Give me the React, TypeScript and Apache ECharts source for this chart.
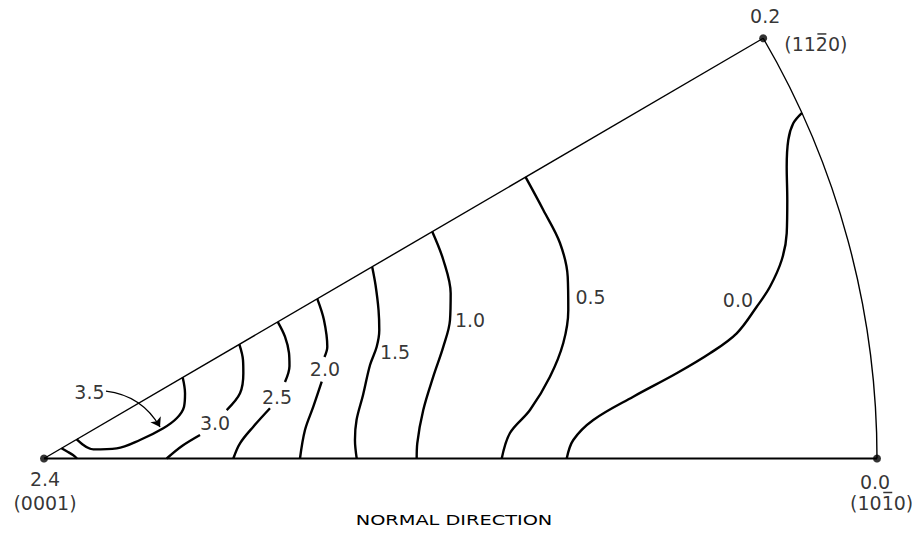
import { useEffect, useRef } from 'react';
import * as echarts from 'echarts';

const FONT = '"DejaVu Sans", "Liberation Sans", sans-serif';

// Projection units: the (0001)-(10-10) edge runs from 0 to 100.
// Poles of the standard triangle and the density measured at each pole.
const poleNames = ['(0001)', '(1010)', '(1120)'];
const poleDensity = ['2.4', '0.0', '0.2'];
const poleX = [0, 100, 86.34];
const poleY = [0, 0, 50.45];

// Iso-density lines (times random), traced as [x, y] points.
const level00 = [[91.0, 41.5], [89.95, 40.24], [89.35, 38.24], [89.16, 35.03], [89.23, 31.03], [89.16, 27.03], [88.56, 23.83], [87.15, 20.62], [85.56, 18.22], [83.16, 15.03], [79.95, 12.63], [75.95, 10.23], [70.74, 7.42], [65.94, 4.62], [63.54, 2.22], [62.75, 0]];
const level05 = [[57.8, 33.8], [59.94, 29.83], [61.94, 25.87], [62.87, 21.82], [62.94, 17.83], [62.34, 13.87], [60.74, 9.82], [58.34, 5.82], [55.94, 3.06], [54.95, 0]];
const level10 = [[46.6, 27.25], [47.94, 23.83], [48.82, 19.83], [48.74, 16.63], [47.94, 13.42], [46.73, 9.82], [45.53, 5.82], [44.81, 1.82], [44.74, 0]];
const level15 = [[39.4, 23.0], [39.8, 20.83], [40.16, 17.83], [40.25, 15.43], [39.94, 13.42], [39.14, 11.22], [38.3, 7.62], [37.52, 4.62], [37.33, 2.22], [37.54, 0]];
const level20Upper = [[32.81, 19.17], [33.61, 16.63], [34.01, 13.42], [33.67, 12.18]];
const level20Lower = [[33.34, 9.22], [32.33, 6.22], [31.33, 3.42], [30.73, 0]];
const level25Upper = [[28.06, 16.4], [28.93, 14.62], [29.41, 12.67], [29.47, 11.1], [28.93, 9.18]];
const level25Lower = [[27.13, 6.03], [25.13, 3.82], [23.53, 1.82], [22.73, 0]];
const level30Upper = [[23.45, 13.7], [23.89, 11.82], [23.93, 10.23], [23.53, 7.83], [21.93, 5.82]];
const level30Lower = [[18.73, 2.82], [16.57, 1.5], [14.73, 0]];
const level35 = [[16.65, 9.73], [16.93, 7.83], [16.81, 6.22], [15.93, 4.83], [14.32, 3.63], [11.52, 2.22], [8.73, 1.22], [5.92, 1.1], [3.93, 2.29]];
const levelNearPole = [[2.1, 1.23], [2.88, 0.78], [3.48, 0.42], [3.96, 0]];

const contourLines = [level00, level05, level10, level15, level20Upper, level20Lower, level25Upper, level25Lower, level30Upper, level30Lower, level35, levelNearPole];

// Level labels and their anchor points
const levelNames = ['0.0', '0.5', '1.0', '1.5', '2.0', '2.5', '3.0', '3.5'];
const levelLabelX = [83.31, 65.61, 51.14, 42.14, 33.73, 27.97, 20.53, 5.46];
const levelLabelY = [19.03, 19.39, 16.63, 12.79, 10.8, 7.38, 4.23, 7.98];

// Leader from the 3.5 label to its line
const leaderFrom = [7.44, 8.1];
const leaderTo = [13.93, 3.78];

// Label placement around the poles (pixels)
const densityOffsets = [[1, 20], [-2, 23], [2, -22]];
const nameOffsets = [[1, 44.5], [4.7, 44], [52.6, 5.7]];
// Bar over the negative index (pixels from the pole); none for (0001)
const barOffsets = [null, [10.75, 34], [58.65, -4.3]];

const ink = '#000';

function buildOption() {
  const poles = poleX.map((x, i) => [x, poleY[i]]);

  const contourSeries = contourLines.map((pts) => ({
    type: 'line',
    data: pts,
    smooth: 0.35,
    symbol: 'none',
    clip: false,
    silent: true,
    lineStyle: { color: '#000', width: 2.4 },
  }));

  const textLabel = (size: number) => ({
    show: true,
    position: 'inside',
    formatter: '{b}',
    color: ink,
    fontSize: size,
    fontFamily: FONT,
    align: 'center',
    verticalAlign: 'middle',
  });

  return {
    animation: false,
    backgroundColor: '#fff',
    grid: { left: 44, top: 0.35, width: 833, height: 458.15 },
    xAxis: { type: 'value', min: 0, max: 100, show: false },
    yAxis: { type: 'value', min: 0, max: 55, show: false },
    graphic: [
      {
        type: 'text',
        x: 454,
        y: 520,
        scaleX: 1.38,
        style: {
          text: 'NORMAL DIRECTION',
          fontSize: 14,
          fontFamily: FONT,
          fill: ink,
          textAlign: 'center',
          textVerticalAlign: 'middle',
          verticalAlign: 'middle',
        },
      },
    ],
    series: [
      // (0001)-(10-10) edge
      {
        type: 'line',
        data: [poles[0], poles[1]],
        symbol: 'none',
        clip: false,
        silent: true,
        lineStyle: { color: '#000', width: 1.8 },
      },
      // (0001)-(11-20) edge
      {
        type: 'line',
        data: [poles[0], poles[2]],
        symbol: 'none',
        clip: false,
        silent: true,
        lineStyle: { color: '#000', width: 1.4 },
      },
      // (10-10)-(11-20) great-circle arc
      {
        type: 'custom',
        coordinateSystem: 'cartesian2d',
        data: [poles[1]],
        clip: false,
        silent: true,
        renderItem: (_params: any, api: any) => {
          const c = api.coord(poles[0]);
          const a = api.coord(poles[1]);
          const b = api.coord(poles[2]);
          const r = Math.hypot(a[0] - c[0], a[1] - c[1]);
          return {
            type: 'arc',
            shape: {
              cx: c[0],
              cy: c[1],
              r,
              startAngle: Math.atan2(b[1] - c[1], b[0] - c[0]),
              endAngle: Math.atan2(a[1] - c[1], a[0] - c[0]),
              clockwise: true,
            },
            style: { stroke: '#000', fill: 'none', lineWidth: 1.4 },
          };
        },
      },
      ...contourSeries,
      // leader arrow for the 3.5 label
      {
        type: 'lines',
        coordinateSystem: 'cartesian2d',
        silent: true,
        symbol: ['none', 'arrow'],
        symbolSize: 9,
        lineStyle: { color: '#000', width: 1.3, curveness: 0.25, opacity: 1 },
        data: [{ coords: [leaderFrom, leaderTo] }],
      },
      // level labels
      {
        type: 'scatter',
        symbolSize: 1,
        silent: true,
        itemStyle: { color: 'rgba(0,0,0,0)' },
        data: levelNames.map((n, i) => ({ name: n, value: [levelLabelX[i], levelLabelY[i]] })),
        label: textLabel(19),
      },
      // pole markers
      {
        type: 'scatter',
        symbol: 'circle',
        symbolSize: 8,
        silent: true,
        itemStyle: { color: '#000' },
        data: poles,
      },
      // pole densities
      {
        type: 'scatter',
        symbolSize: 1,
        silent: true,
        itemStyle: { color: 'rgba(0,0,0,0)' },
        data: poles.map((p, i) => ({
          name: poleDensity[i],
          value: p,
          label: { offset: densityOffsets[i] },
        })),
        label: textLabel(19),
      },
      // pole Miller-Bravais indices
      {
        type: 'scatter',
        symbolSize: 1,
        silent: true,
        itemStyle: { color: 'rgba(0,0,0,0)' },
        data: poles.map((p, i) => ({
          name: poleNames[i],
          value: p,
          label: { offset: nameOffsets[i] },
        })),
        label: textLabel(19),
      },
      // bars over the negative indices
      {
        type: 'scatter',
        symbol: 'rect',
        symbolSize: [9, 1.5],
        silent: true,
        itemStyle: { color: '#000' },
        data: poles
          .map((p, i) => ({ value: p, symbolOffset: barOffsets[i] }))
          .filter((d) => d.symbolOffset !== null),
      },
    ],
  };
}

export default function App() {
  const ref = useRef<HTMLDivElement>(null);
  useEffect(() => {
    if (!ref.current) return;
    const chart = echarts.init(ref.current, null, { renderer: 'svg' });
    chart.setOption(buildOption() as any);
    return () => chart.dispose();
  }, []);
  return (
    <div
      ref={ref}
      style={{ position: 'absolute', left: 0, top: 0, width: 912, height: 544, background: '#fff' }}
    />
  );
}
